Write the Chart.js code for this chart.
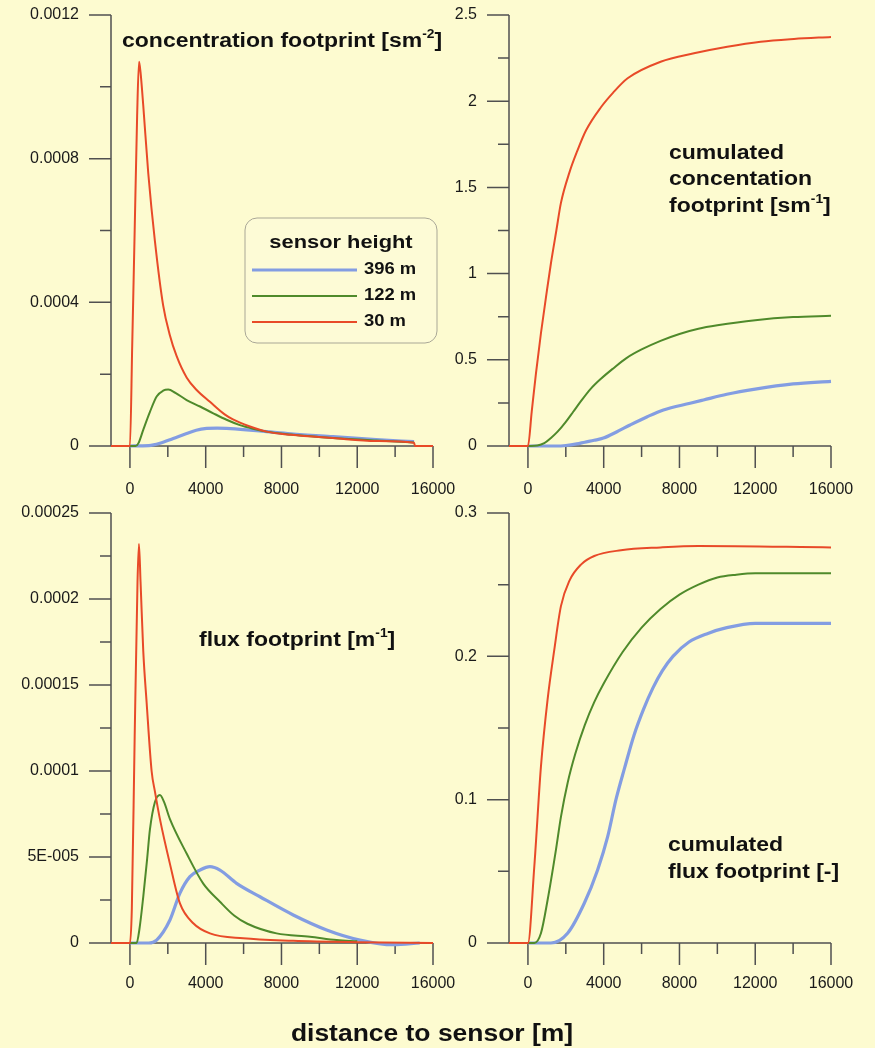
<!DOCTYPE html>
<html>
<head>
<meta charset="UTF-8">
<title>Footprint</title>
<script src="https://cdn.jsdelivr.net/npm/chart.js@4.4.0/dist/chart.umd.min.js"></script>
<style>
  body { margin: 0; background: #FDFBD0; }
  #wrap { position: relative; width: 875px; height: 1048px; }
  #wrap canvas { position: absolute; left: 0; top: 0; }
</style>
</head>
<body>
<div id="wrap">
  <canvas id="concChart" width="875" height="1048"></canvas>
  <canvas id="cumConcChart" width="875" height="1048"></canvas>
  <canvas id="fluxChart" width="875" height="1048"></canvas>
  <canvas id="cumFluxChart" width="875" height="1048"></canvas>
</div>

<script>
// ---- axis ticks ----
const xMajorTicks = [0, 4000, 8000, 12000, 16000];
const xMinorTicks = [2000, 6000, 10000, 14000];

const concTicks = [0, 0.0004, 0.0008, 0.0012];
const concTickLabels = ['0', '0.0004', '0.0008', '0.0012'];
const concMinor = [0.0002, 0.0006, 0.001];

const cumConcTicks = [0, 0.5, 1, 1.5, 2, 2.5];
const cumConcTickLabels = ['0', '0.5', '1', '1.5', '2', '2.5'];
const cumConcMinor = [0.25, 0.75, 1.25, 1.75, 2.25];

const fluxTicks = [0, 0.00005, 0.0001, 0.00015, 0.0002, 0.00025];
const fluxTickLabels = ['0', '5E-005', '0.0001', '0.00015', '0.0002', '0.00025'];
const fluxMinor = [0.000025, 0.000075, 0.000125, 0.000175, 0.000225];

const cumFluxTicks = [0, 0.1, 0.2, 0.3];
const cumFluxTickLabels = ['0', '0.1', '0.2', '0.3'];
const cumFluxMinor = [0.05, 0.15, 0.25];

// ---- series: [distance m, value] ----
const conc30 = [[-1000,0],[0,0],[120,0.00028],[250,0.0006],[380,0.00092],[480,0.00107],[560,0.00104],[700,0.00095],
  [966,0.00076],[1320,0.00057],[1758,0.00039],[2100,0.00031],[2466,0.00025],[3000,0.00019],[3521,0.000156],
  [4224,0.000123],[5000,0.000088],[5438,0.000074],[6300,0.000055],[7217,0.00004],[8500,0.000031],
  [10718,0.000022],[13000,0.000014],[15000,0.000009],[15050,0],[16000,0]];
const conc122 = [[0,0],[300,0],[450,0.000008],[702,0.000045],[1056,0.000095],[1410,0.000138],[1750,0.000154],
  [2022,0.000157],[2400,0.000148],[2993,0.000128],[3700,0.00011],[4400,0.000091],[5100,0.000073],
  [5808,0.000058],[6500,0.000048],[7217,0.00004],[8500,0.000032],[10718,0.000022],[13000,0.000015],[15000,0.00001]];
const conc396 = [[0,0],[1000,0.000001],[1584,0.0000075],[2286,0.000021],[2993,0.000035],[3500,0.000044],
  [4050,0.000049],[4600,0.00005],[5105,0.000049],[6161,0.000045],[7217,0.00004],[8500,0.000034],
  [10718,0.000026],[13000,0.000018],[15000,0.000012]];

const cumConc30 = [[-1000,0],[0,0],[200,0.2],[422,0.42],[686,0.654],[1000,0.9],[1214,1.06],[1500,1.25],
  [1742,1.41],[2200,1.59],[2600,1.71],[3062,1.83],[3854,1.965],[4500,2.05],[5262,2.133],[7005,2.229],
  [8765,2.278],[10524,2.316],[12284,2.345],[14044,2.361],[16000,2.373]];
const cumConc122 = [[0,0],[500,0.003],[862,0.016],[1200,0.045],[1566,0.083],[2000,0.14],[2400,0.2],
  [2798,0.26],[3300,0.33],[3854,0.39],[4500,0.45],[5200,0.51],[6000,0.56],[7000,0.61],[8000,0.65],
  [9000,0.68],[10000,0.7],[12000,0.73],[14000,0.748],[16000,0.755]];
const cumConc396 = [[0,0],[1500,0],[2000,0.003],[2576,0.012],[3000,0.022],[3500,0.033],[3985,0.046],
  [4700,0.083],[5393,0.122],[6300,0.17],[7153,0.209],[8561,0.248],[9265,0.267],[10500,0.3],[12000,0.33],
  [14000,0.36],[16000,0.375]];

const flux30 = [[-1000,0],[0,0],[100,0.00002],[250,0.00012],[400,0.00021],[475,0.000232],[560,0.00021],
  [702,0.00017],[880,0.00014],[1144,0.0001],[1320,0.000088],[1584,0.000072],[2112,0.000046],[2640,0.000023],
  [3343,0.0000115],[4224,0.0000056],[5982,0.0000027],[8622,0.0000013],[12000,0.0000005],[16000,0]];
const flux122 = [[0,0],[352,0],[500,0.000008],[704,0.000027],[900,0.000048],[1056,0.000066],[1320,0.000082],
  [1584,0.000086],[1800,0.000082],[2112,0.000072],[2993,0.000052],[3871,0.0000345],[4752,0.000024],
  [5500,0.000016],[6200,0.0000112],[7743,0.0000056],[9503,0.0000037],[10911,0.0000017],[12000,0.000001]];
const flux396 = [[0,0],[1000,0],[1408,0.0000017],[2112,0.0000134],[2640,0.000029],[3168,0.0000386],
  [3696,0.0000424],[4224,0.0000444],[4752,0.0000424],[5630,0.0000347],[6864,0.0000269],[8622,0.0000163],
  [10383,0.0000076],[12143,0.0000017],[13904,-0.000001],[15300,0]];

const cumFlux30 = [[-1000,0],[0,0],[334,0.053],[686,0.123],[1038,0.17],[1390,0.2045],[1742,0.235],
  [2200,0.253],[2798,0.264],[3500,0.27],[4910,0.274],[7000,0.276],[9000,0.277],[16000,0.276]];
const cumFlux122 = [[0,0],[334,0],[686,0.0068],[1038,0.03],[1478,0.065],[1742,0.088],[2100,0.112],
  [2500,0.132],[3000,0.152],[3500,0.168],[4000,0.181],[5000,0.203],[6000,0.22],[7000,0.233],[8000,0.243],
  [9000,0.25],[10000,0.255],[11000,0.257],[12000,0.258],[16000,0.258]];
const cumFlux396 = [[0,0],[1214,0],[2094,0.0068],[2974,0.0277],[3678,0.051],[4206,0.074],[4646,0.1],
  [5100,0.122],[5600,0.145],[6100,0.163],[6600,0.178],[7100,0.19],[7655,0.2],[8500,0.21],[9500,0.216],
  [10500,0.22],[12000,0.223],[16000,0.223]];

const heightLabels = ['30 m', '122 m', '396 m'];
const lineColors = ['#E84A28', '#4F8A2B', '#839DE2'];
const lineWidths = [2, 2, 3.2];

const FONT = '"Liberation Sans", Arial, sans-serif';
const TEXT_STRETCH = 1.15;

function drawRich(ctx, item) {
  ctx.save();
  ctx.translate(item.x, item.y);
  ctx.scale(TEXT_STRETCH, 1);
  ctx.fillStyle = '#111';
  ctx.textBaseline = 'middle';
  ctx.textAlign = 'left';
  let widths = item.parts.map(p => {
    ctx.font = 'bold ' + (p[1] ? Math.round(item.size * 0.6) : item.size) + 'px ' + FONT;
    return ctx.measureText(p[0]).width;
  });
  let cx = item.align === 'center' ? -widths.reduce((s, w) => s + w, 0) / 2 : 0;
  item.parts.forEach((p, i) => {
    ctx.font = 'bold ' + (p[1] ? Math.round(item.size * 0.6) : item.size) + 'px ' + FONT;
    ctx.fillText(p[0], cx, p[1] ? -item.size * 0.32 : 0);
    cx += widths[i];
  });
  ctx.restore();
}

const panelDecor = {
  id: 'panelDecor',
  beforeDatasetsDraw(chart, args, opts) {
    const ctx = chart.ctx, a = chart.chartArea, xs = chart.scales.x, ys = chart.scales.y;
    ctx.save();
    ctx.strokeStyle = '#505050';
    ctx.lineWidth = 1.5;
    ctx.beginPath();
    ctx.moveTo(a.left, a.top);
    ctx.lineTo(a.left, a.bottom);
    ctx.lineTo(a.right, a.bottom);
    ys.ticks.forEach(t => {
      const y = ys.getPixelForValue(t.value);
      ctx.moveTo(a.left - 22, y); ctx.lineTo(a.left, y);
    });
    opts.yMinor.forEach(v => {
      const y = ys.getPixelForValue(v);
      ctx.moveTo(a.left - 11, y); ctx.lineTo(a.left, y);
    });
    xs.ticks.forEach(t => {
      const x = xs.getPixelForValue(t.value);
      ctx.moveTo(x, a.bottom); ctx.lineTo(x, a.bottom + 22);
    });
    xMinorTicks.forEach(v => {
      const x = xs.getPixelForValue(v);
      ctx.moveTo(x, a.bottom); ctx.lineTo(x, a.bottom + 11);
    });
    ctx.stroke();
    ctx.restore();
  },
  afterDraw(chart, args, opts) {
    const ctx = chart.ctx;
    if (opts.legend) {
      const L = opts.legend;
      ctx.save();
      ctx.beginPath();
      ctx.roundRect(L.x, L.y, L.w, L.h, 12);
      ctx.fillStyle = '#FDFBD6';
      ctx.fill();
      ctx.strokeStyle = '#A9A796';
      ctx.lineWidth = 1;
      ctx.stroke();
      ctx.restore();
      drawRich(ctx, { x: L.x + L.w / 2, y: L.y + 25, size: 19, align: 'center', parts: [['sensor height']] });
      const ds = chart.data.datasets.slice().reverse();
      ds.forEach((d, i) => {
        const y = L.y + 52 + i * 26;
        ctx.save();
        ctx.strokeStyle = d.borderColor;
        ctx.lineWidth = d.borderWidth;
        ctx.beginPath();
        ctx.moveTo(L.x + 7, y); ctx.lineTo(L.x + 112, y);
        ctx.stroke();
        ctx.restore();
        drawRich(ctx, { x: L.x + 119, y: y, size: 16, parts: [[d.label]] });
      });
    }
    (opts.texts || []).forEach(t => drawRich(ctx, t));
  }
};

function makeDatasets(series) {
  return series.map((s, i) => ({
    label: heightLabels[i],
    data: s,
    borderColor: lineColors[i],
    borderWidth: lineWidths[i],
    pointRadius: 0,
    fill: false,
    cubicInterpolationMode: 'monotone',
    clip: false
  }));
}

function makePanel(id, series, yMax, yTicks, yLabels, yMinor, pad, xPad, decor) {
  return new Chart(document.getElementById(id), {
    type: 'line',
    data: { datasets: makeDatasets(series) },
    plugins: [panelDecor],
    options: {
      responsive: false,
      animation: false,
      events: [],
      layout: { padding: pad },
      plugins: {
        legend: { display: false },
        tooltip: { enabled: false },
        panelDecor: Object.assign({ yMinor: yMinor }, decor)
      },
      scales: {
        x: {
          type: 'linear', position: 'bottom', min: -1000, max: 16000,
          grid: { display: false, drawTicks: false },
          border: { display: false },
          afterBuildTicks: s => { s.ticks = xMajorTicks.map(v => ({ value: v })); },
          afterFit: s => { s.height = 60; s.paddingLeft = 0; s.paddingRight = 0; },
          ticks: {
            autoSkip: false, maxRotation: 0, padding: xPad, color: '#1a1a1a',
            font: { family: FONT, size: 16 },
            callback: v => String(v)
          }
        },
        y: {
          type: 'linear', position: 'left', min: 0, max: yMax,
          grid: { display: false, drawTicks: false },
          border: { display: false },
          afterBuildTicks: s => { s.ticks = yTicks.map(v => ({ value: v })); },
          afterFit: s => { s.width = 100; s.paddingTop = 0; s.paddingBottom = 0; },
          ticks: {
            autoSkip: false, padding: 32, color: '#1a1a1a',
            font: { family: FONT, size: 16 },
            callback: (v, i) => yLabels[i]
          }
        }
      }
    }
  });
}

makePanel('concChart', [conc30, conc122, conc396], 0.0012, concTicks, concTickLabels, concMinor,
  { left: 11, top: 15, right: 442, bottom: 542 }, 34, {
    legend: { x: 245, y: 218, w: 192, h: 125 },
    texts: [
      { x: 122, y: 41, size: 20, parts: [['concentration footprint [sm'], ['-2', true], [']']] },
      { x: 432, y: 1035, size: 23, align: 'center', parts: [['distance to sensor [m]']] }
    ]
  });

makePanel('cumConcChart', [cumConc30, cumConc122, cumConc396], 2.5, cumConcTicks, cumConcTickLabels, cumConcMinor,
  { left: 409, top: 15, right: 44, bottom: 542 }, 34, {
    texts: [
      { x: 669, y: 153, size: 20, parts: [['cumulated']] },
      { x: 669, y: 179, size: 20, parts: [['concentation']] },
      { x: 669, y: 206, size: 20, parts: [['footprint [sm'], ['-1', true], [']']] }
    ]
  });

makePanel('fluxChart', [flux30, flux122, flux396], 0.00025, fluxTicks, fluxTickLabels, fluxMinor,
  { left: 11, top: 513, right: 442, bottom: 45 }, 31, {
    texts: [
      { x: 199, y: 640, size: 20, parts: [['flux footprint [m'], ['-1', true], [']']] }
    ]
  });

makePanel('cumFluxChart', [cumFlux30, cumFlux122, cumFlux396], 0.3, cumFluxTicks, cumFluxTickLabels, cumFluxMinor,
  { left: 409, top: 513, right: 44, bottom: 45 }, 31, {
    texts: [
      { x: 668, y: 845, size: 20, parts: [['cumulated']] },
      { x: 668, y: 872, size: 20, parts: [['flux footprint [-]']] }
    ]
  });
</script>
</body>
</html>
